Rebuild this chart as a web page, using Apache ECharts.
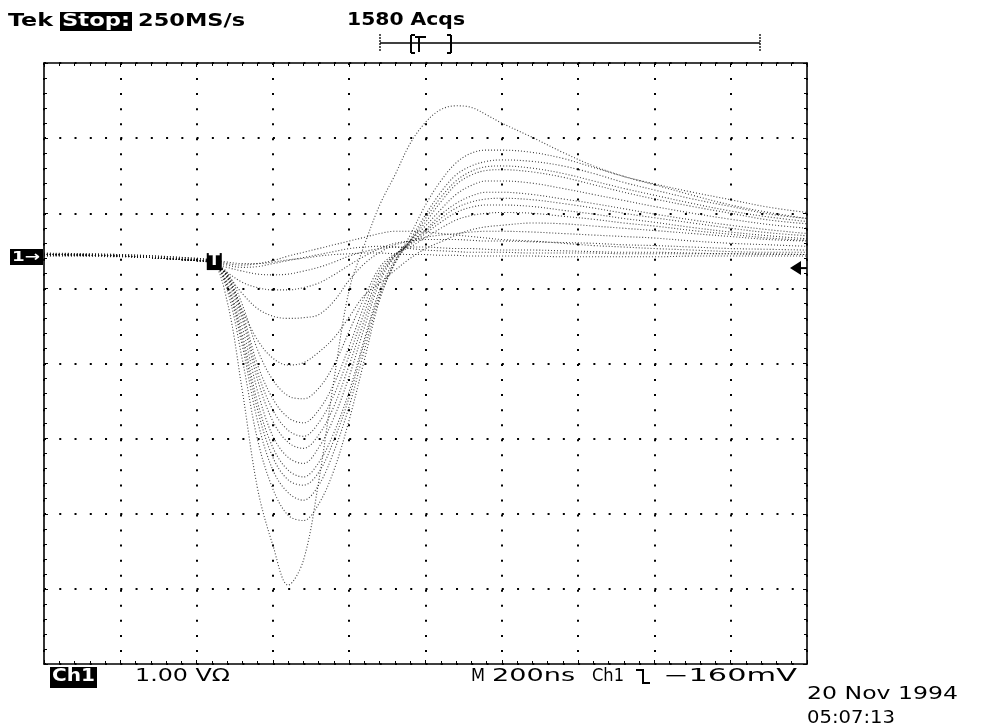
<!DOCTYPE html>
<html>
<head>
<meta charset="utf-8">
<script src="https://cdn.jsdelivr.net/npm/echarts@6/dist/echarts.min.js"></script>
<style>
html,body{margin:0;padding:0;background:#fff;}
#chart{width:983px;height:727px;}
</style>
</head>
<body>
<div id="chart"></div>
<script>
// ---- Data ----
const timeNs = [0, 200, 400, 440, 480, 520, 560, 600, 640, 680, 720, 760, 800, 840, 880, 920, 960, 1000, 1040, 1080, 1120, 1160, 1200, 1280, 1360, 1440, 1520, 1600, 1700, 1800, 1900, 2000];

const traceA = [0.02, 0.0, -0.06, -0.08, -0.6, -1.8, -3.1, -3.85, -4.38, -4.05, -3.0, -1.65, -0.45, 0.15, 0.68, 1.08, 1.5, 1.78, 1.95, 2.0, 1.98, 1.88, 1.77, 1.58, 1.38, 1.2, 1.06, 0.95, 0.81, 0.68, 0.58, 0.5];
const traceB = [0.02, 0.0, -0.06, -0.08, -0.45, -1.38, -2.45, -3.1, -3.45, -3.52, -3.3, -2.85, -2.18, -1.38, -0.58, -0.08, 0.28, 0.68, 1.0, 1.24, 1.37, 1.41, 1.41, 1.38, 1.3, 1.18, 1.06, 0.96, 0.85, 0.75, 0.65, 0.58];
const traceC = [0.02, 0.0, -0.06, -0.08, -0.4, -1.2, -2.2, -2.85, -3.15, -3.25, -3.05, -2.6, -2.0, -1.25, -0.55, -0.1, 0.22, 0.55, 0.85, 1.08, 1.2, 1.26, 1.28, 1.26, 1.2, 1.1, 0.98, 0.88, 0.76, 0.66, 0.56, 0.5];
const traceP = [0.02, 0.0, -0.06, -0.08, -0.38, -1.12, -2.05, -2.68, -2.98, -3.05, -2.88, -2.45, -1.88, -1.15, -0.5, -0.08, 0.2, 0.5, 0.78, 1.0, 1.13, 1.19, 1.2, 1.17, 1.1, 1.0, 0.9, 0.81, 0.7, 0.6, 0.52, 0.46];
const traceD = [0.02, 0.0, -0.06, -0.08, -0.35, -1.05, -1.95, -2.55, -2.85, -2.94, -2.75, -2.35, -1.8, -1.1, -0.45, -0.05, 0.2, 0.45, 0.72, 0.95, 1.08, 1.14, 1.15, 1.12, 1.05, 0.95, 0.85, 0.76, 0.66, 0.57, 0.48, 0.43];
const traceE = [0.02, 0.0, -0.06, -0.08, -0.3, -0.95, -1.8, -2.4, -2.68, -2.76, -2.55, -2.15, -1.6, -0.95, -0.35, 0.0, 0.2, 0.4, 0.62, 0.82, 0.94, 1.0, 1.0, 0.97, 0.9, 0.82, 0.74, 0.66, 0.57, 0.49, 0.42, 0.37];
const traceF = [0.02, 0.0, -0.06, -0.08, -0.28, -0.85, -1.65, -2.2, -2.48, -2.56, -2.38, -2.0, -1.45, -0.85, -0.3, 0.0, 0.18, 0.35, 0.55, 0.7, 0.8, 0.85, 0.85, 0.82, 0.76, 0.7, 0.63, 0.56, 0.48, 0.41, 0.35, 0.3];
const traceR = [0.02, 0.0, -0.06, -0.08, -0.27, -0.8, -1.55, -2.05, -2.32, -2.4, -2.22, -1.85, -1.32, -0.75, -0.25, 0.01, 0.17, 0.33, 0.5, 0.64, 0.72, 0.76, 0.77, 0.75, 0.7, 0.64, 0.57, 0.51, 0.44, 0.37, 0.31, 0.27];
const traceG = [0.02, 0.0, -0.06, -0.08, -0.25, -0.75, -1.45, -1.9, -2.15, -2.22, -2.05, -1.7, -1.2, -0.65, -0.2, 0.02, 0.15, 0.3, 0.45, 0.58, 0.65, 0.68, 0.68, 0.66, 0.61, 0.56, 0.5, 0.45, 0.38, 0.32, 0.27, 0.23];
const traceQ = [0.02, 0.0, -0.06, -0.08, -0.22, -0.65, -1.25, -1.65, -1.86, -1.9, -1.76, -1.45, -1.0, -0.55, -0.15, 0.03, 0.12, 0.25, 0.37, 0.48, 0.54, 0.57, 0.58, 0.57, 0.53, 0.49, 0.44, 0.4, 0.34, 0.29, 0.24, 0.21];
const traceH = [0.02, 0.0, -0.06, -0.08, -0.25, -0.72, -1.12, -1.36, -1.45, -1.42, -1.28, -1.09, -0.81, -0.52, -0.36, -0.19, -0.03, 0.1, 0.19, 0.28, 0.35, 0.39, 0.41, 0.44, 0.43, 0.4, 0.37, 0.34, 0.3, 0.26, 0.22, 0.2];
const traceI = [0.02, 0.0, -0.06, -0.08, -0.25, -0.5, -0.7, -0.8, -0.83, -0.82, -0.78, -0.6, -0.32, -0.1, 0.05, 0.15, 0.2, 0.25, 0.28, 0.3, 0.32, 0.33, 0.33, 0.32, 0.3, 0.28, 0.26, 0.24, 0.2, 0.17, 0.15, 0.13];
const traceJ = [0.02, 0.0, -0.06, -0.1, -0.22, -0.35, -0.42, -0.45, -0.45, -0.42, -0.36, -0.25, -0.12, 0.0, 0.1, 0.17, 0.2, 0.22, 0.22, 0.22, 0.21, 0.2, 0.2, 0.19, 0.18, 0.17, 0.15, 0.14, 0.12, 0.1, 0.09, 0.08];
const traceK = [0.03, 0.01, -0.05, -0.08, -0.15, -0.2, -0.24, -0.25, -0.24, -0.2, -0.15, -0.08, 0.0, 0.06, 0.1, 0.12, 0.12, 0.12, 0.11, 0.1, 0.1, 0.09, 0.08, 0.08, 0.07, 0.06, 0.05, 0.05, 0.04, 0.03, 0.03, 0.02];
const traceL = [0.04, 0.02, -0.03, -0.05, -0.1, -0.12, -0.1, -0.06, 0.0, 0.05, 0.1, 0.15, 0.2, 0.25, 0.3, 0.33, 0.33, 0.32, 0.3, 0.28, 0.26, 0.24, 0.22, 0.2, 0.17, 0.14, 0.12, 0.1, 0.08, 0.06, 0.05, 0.05];
const traceM = [0.03, 0.02, -0.03, -0.06, -0.12, -0.15, -0.14, -0.1, -0.06, -0.02, 0.02, 0.06, 0.1, 0.12, 0.13, 0.12, 0.1, 0.08, 0.07, 0.06, 0.05, 0.05, 0.05, 0.04, 0.04, 0.04, 0.03, 0.03, 0.03, 0.03, 0.02, 0.02];
const traceN = [0.0, -0.01, -0.04, -0.05, -0.08, -0.1, -0.1, -0.08, -0.05, -0.03, 0.0, 0.02, 0.03, 0.04, 0.04, 0.03, 0.02, 0.02, 0.01, 0.01, 0.0, 0.0, 0.0, 0.0, -0.01, -0.01, -0.01, -0.01, 0.0, 0.0, 0.0, 0.0];

const traces = [traceA, traceB, traceC, traceP, traceD, traceE, traceF, traceR, traceG, traceQ, traceH, traceI, traceJ, traceK, traceL, traceM, traceN];

const VOLTS_PER_DIV = 1.0;
const CH1_POSITION_DIV = 1.43;   // ground marker above screen centre
const TRIGGER_TIME_NS = 445;
const TRIGGER_LEVEL_V = -0.16;
const TIME_SPAN_NS = 2000;       // 10 div x 200 ns
const TIME_PER_DIV_NS = 200;

const headerLeft = ['Tek', 'Stop:', '250MS/s'];
const acqText = '1580 Acqs';
const footerTexts = ['Ch1', '1.00 V\u03A9', 'M', '200ns', 'Ch1', '\u2212160mV'];
const dateTexts = ['20 Nov 1994', '05:07:13'];

// ---- Chart ----
const chart = echarts.init(document.getElementById('chart'), null, {renderer: 'canvas'});

const dotGridX = {show: true, lineStyle: {color: '#000', width: 2, type: [2, 13.26]}};
const dotGridY = {show: true, lineStyle: {color: '#000', width: 2, type: [2, 13.05]}};
const border = {show: true, onZero: false, lineStyle: {color: '#000', width: 1.6}};
const tick = {show: true, inside: true, length: 4, lineStyle: {color: '#000', width: 1}};
const minor = {show: true, splitNumber: 5, length: 3, lineStyle: {color: '#000', width: 1}};

const series = traces.map((tr, k) => ({
  type: 'line',
  name: 'acq' + k,
  xAxisIndex: 0, yAxisIndex: 0,
  showSymbol: false,
  smooth: 0.35,
  silent: true,
  lineStyle: {color: '#111', width: 1.1, type: [1, 2], opacity: 0.8},
  data: timeNs.map((t, i) => [t, tr[i] / VOLTS_PER_DIV + CH1_POSITION_DIV])
}));

chart.setOption({
  animation: false,
  backgroundColor: '#fff',
  grid: {left: 44, right: 176, top: 63, bottom: 63, containLabel: false},
  xAxis: [
    {type: 'value', min: 0, max: TIME_SPAN_NS, interval: TIME_PER_DIV_NS, position: 'bottom',
     axisLine: border, axisTick: tick, minorTick: minor, axisLabel: {show: false}, splitLine: dotGridY},
    {type: 'value', min: 0, max: TIME_SPAN_NS, interval: TIME_PER_DIV_NS, position: 'top',
     axisLine: border, axisTick: tick, minorTick: minor, axisLabel: {show: false}, splitLine: {show: false}}
  ],
  yAxis: [
    {type: 'value', min: -4, max: 4, interval: 1, position: 'left',
     axisLine: border, axisTick: tick, minorTick: minor, axisLabel: {show: false}, splitLine: dotGridX},
    {type: 'value', min: -4, max: 4, interval: 1, position: 'right',
     axisLine: border, axisTick: tick, minorTick: minor, axisLabel: {show: false}, splitLine: {show: false}}
  ],
  series: series
});

// ---- Annotations ----
const FONT_FAMILY = '"DejaVu Sans", "Liberation Sans", sans-serif';
const mctx = document.createElement('canvas').getContext('2d');
function fitText(text, x, y, targetW, color, size, weight) {
  size = size || 17; weight = weight || 'normal';
  const font = weight + ' ' + size + 'px ' + FONT_FAMILY;
  mctx.font = font;
  const w = mctx.measureText(text).width;
  return {type: 'text', x: x, y: y, scaleX: targetW / w, z: 100,
          style: {text: text, font: font, fill: color || '#000', align: 'left', verticalAlign: 'middle'}};
}
function rect(x, y, w, h, fill) {
  return {type: 'rect', z: 99, shape: {x: x, y: y, width: w, height: h}, style: {fill: fill || '#000'}};
}
function line(x1, y1, x2, y2, w, dash) {
  return {type: 'line', z: 99, shape: {x1: x1, y1: y1, x2: x2, y2: y2},
          style: {stroke: '#000', lineWidth: w || 1.2, lineDash: dash || null}};
}

const y0 = chart.convertToPixel({yAxisIndex: 0}, 0 / VOLTS_PER_DIV + CH1_POSITION_DIV);
const yTrig = chart.convertToPixel({yAxisIndex: 0}, TRIGGER_LEVEL_V / VOLTS_PER_DIV + CH1_POSITION_DIV);
const xTrig = chart.convertToPixel({xAxisIndex: 0}, TRIGGER_TIME_NS);
const xRight = chart.convertToPixel({xAxisIndex: 0}, TIME_SPAN_NS);

const g = [];
// header
g.push(fitText(headerLeft[0], 8, 21.5, 45, '#000', 17, '600'));
g.push(rect(60, 12, 72, 19));
g.push(fitText(headerLeft[1], 62, 21.5, 68, '#fff', 17, '600'));
g.push(fitText(headerLeft[2], 138, 21.5, 107, '#000', 17, '600'));
g.push(fitText(acqText, 347, 20.5, 118, '#000', 17, '600'));
// record bar
g.push(line(380, 43, 760, 43, 1.3));
g.push(line(380, 34, 380, 52, 1.3, [2, 1]));
g.push(line(760, 34, 760, 52, 1.3, [2, 1]));
g.push(line(411, 35, 411, 53, 2));
g.push(line(411, 35, 415, 35, 2));
g.push(line(411, 53, 415, 53, 2));
g.push(line(415, 37, 426, 37, 2));
g.push(line(419, 37, 419, 52, 2));
g.push(line(451, 35, 451, 53, 2));
g.push(line(447, 35, 451, 35, 2));
g.push(line(447, 53, 451, 53, 2));
// ground marker "1->"
g.push(rect(10, y0 - 7, 33, 16));
g.push(fitText('1\u2192', 12, y0 + 1, 28, '#fff', 14, 'bold'));
// trigger position marker
g.push(rect(xTrig - 7, y0 - 3, 15, 17));
g.push(fitText('T', xTrig - 5, y0 + 5.5, 11, '#fff', 15, 'bold'));
// trigger level arrow
g.push({type: 'polygon', z: 99, shape: {points: [[xRight - 17, yTrig], [xRight - 6, yTrig - 7], [xRight - 6, yTrig + 7]]}, style: {fill: '#000'}});
g.push(line(xRight - 8, yTrig, xRight, yTrig, 2));
// footer
g.push(rect(50, 667, 47, 21));
g.push(fitText(footerTexts[0], 52, 677, 43, '#fff', 17, 'bold'));
g.push(fitText(footerTexts[1], 135, 677, 95));
g.push(fitText(footerTexts[2], 471, 677, 14));
g.push(fitText(footerTexts[3], 492, 677, 83));
g.push(fitText(footerTexts[4], 592, 677, 32));
g.push({type: 'polyline', z: 99, shape: {points: [[636, 670], [643, 670], [643, 683], [650, 683]]}, style: {stroke: '#000', lineWidth: 2, fill: null}});
g.push(fitText(footerTexts[5], 663, 677, 134));
g.push(fitText(dateTexts[0], 807, 695, 151));
g.push(fitText(dateTexts[1], 807, 719, 88));

chart.setOption({graphic: g});
</script>
</body>
</html>
